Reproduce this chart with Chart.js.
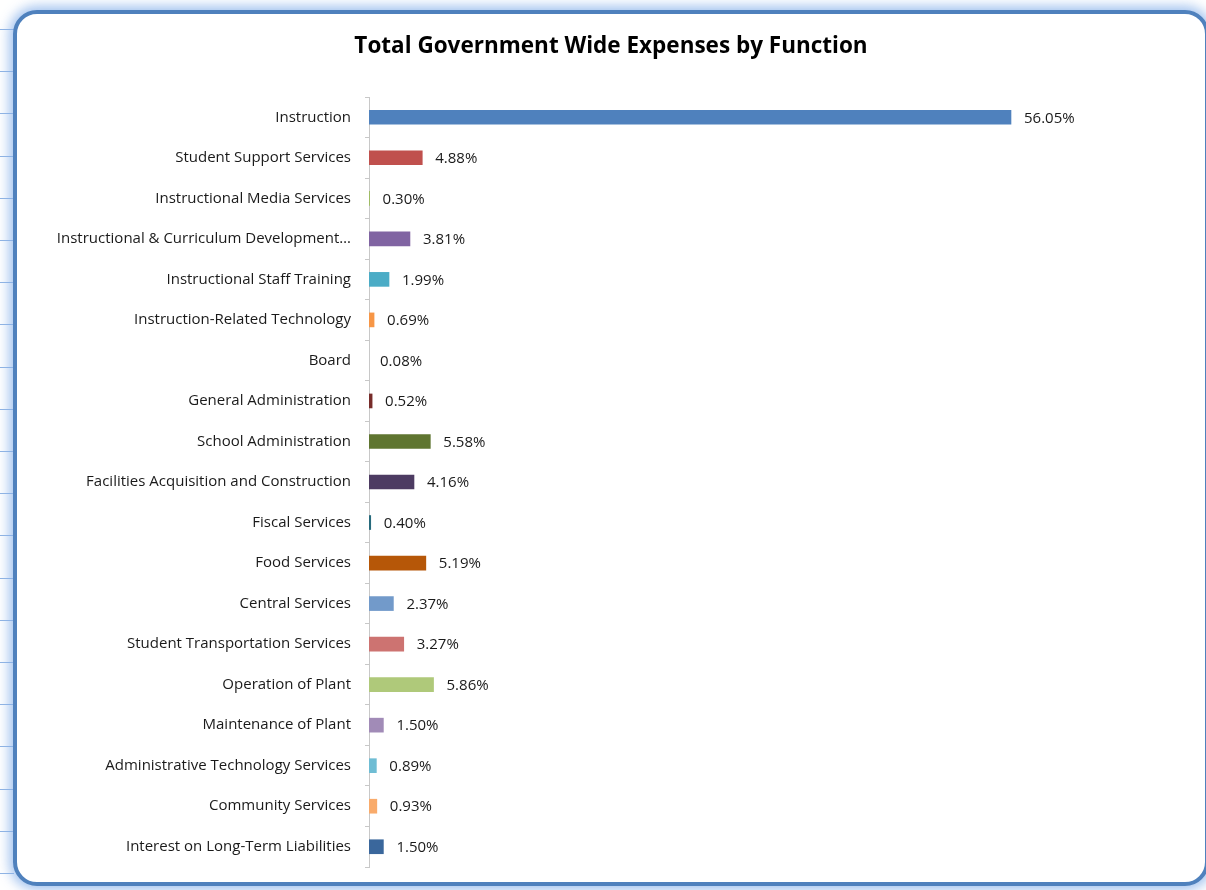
<!DOCTYPE html>
<html>
<head>
<meta charset="utf-8">
<script src="https://cdn.jsdelivr.net/npm/chart.js@4/dist/chart.umd.min.js"></script>
<style>
  html, body { margin: 0; padding: 0; background: #fff; }
  body { width: 1206px; height: 890px; position: relative; overflow: hidden; }
  /* Excelのシート行線(左端にだけ見えている) */
  #sheet {
    position: absolute; left: 0; top: 0; width: 14px; height: 890px;
    background: repeating-linear-gradient(to bottom, transparent 0, transparent 29px, #8fb3e3 29px, #8fb3e3 30px, transparent 30px, transparent 42.2px);
  }
  /* グラフの角丸枠+外側のぼかし */
  #frame {
    position: absolute; left: 13px; top: 10px; width: 1196px; height: 876px;
    box-sizing: border-box; border: 4px solid #4f81bd; border-radius: 24px;
    background: #fff;
    box-shadow: 0 0 12px 4px rgba(140, 180, 235, 0.8);
  }
  #c { position: absolute; left: 0; top: 0; }
</style>
</head>
<body>
<div id="sheet"></div>
<div id="frame"></div>
<canvas id="c" width="1206" height="890"></canvas>
<script>
// 機能別の支出割合(%)
const categories = [
  'Instruction',
  'Student Support Services',
  'Instructional Media Services',
  'Instructional & Curriculum Development…',
  'Instructional Staff Training',
  'Instruction-Related Technology',
  'Board',
  'General Administration',
  'School Administration',
  'Facilities Acquisition and Construction',
  'Fiscal Services',
  'Food Services',
  'Central Services',
  'Student Transportation Services',
  'Operation of Plant',
  'Maintenance of Plant',
  'Administrative Technology Services',
  'Community Services',
  'Interest on Long-Term Liabilities'
];
const percents = [56.05, 4.88, 0.30, 3.81, 1.99, 0.69, 0.08, 0.52, 5.58, 4.16, 0.40, 5.19, 2.37, 3.27, 5.86, 1.50, 0.89, 0.93, 1.50];

// Excel 2007 の系列色(点ごとに色分け)
const barColors = [
  '#4f81bd', '#c0504d', '#9bbb59', '#8064a2', '#4bacc6', '#f79646',
  '#2c4d75', '#772c2a', '#5f7530', '#4d3b62', '#276a7c', '#b65708',
  '#729aca', '#cd7371', '#afc97a', '#a18bb7', '#6fbdd4', '#f9ab6b',
  '#3a679c'
];

const FONT = 'Open Sans, Liberation Sans, sans-serif';

// 棒の右にパーセント表示
const valueLabels = {
  id: 'valueLabels',
  afterDatasetsDraw(chart) {
    const ctx = chart.ctx;
    const x = chart.scales.x;
    const meta = chart.getDatasetMeta(0);
    ctx.save();
    ctx.font = '15px ' + FONT;
    ctx.fillStyle = '#1a1a1a';
    ctx.textAlign = 'left';
    ctx.textBaseline = 'middle';
    meta.data.forEach((bar, i) => {
      const v = percents[i];
      ctx.fillText(v.toFixed(2) + '%', x.getPixelForValue(v) + 13, bar.y + 1);
    });
    ctx.restore();
  }
};

new Chart(document.getElementById('c'), {
  type: 'bar',
  data: {
    labels: categories,
    datasets: [{
      data: percents,
      backgroundColor: barColors,
      borderWidth: 0,
      barThickness: 14
    }]
  },
  plugins: [valueLabels],
  options: {
    indexAxis: 'y',
    responsive: false,
    animation: false,
    events: [],
    layout: { padding: { left: 16, right: 0, top: 0, bottom: 23 } },
    scales: {
      x: { display: false, min: 0.25, max: 73 },
      y: {
        grid: { drawOnChartArea: false, drawTicks: true, tickLength: 4, color: '#c8c8c8', offset: true },
        border: { display: true, color: '#c8c8c8' },
        ticks: { color: '#1a1a1a', font: { family: FONT, size: 15 }, padding: 14, autoSkip: false },
        afterFit(scale) { scale.width = 353; }
      }
    },
    plugins: {
      legend: { display: false },
      tooltip: { enabled: false },
      title: {
        display: true,
        text: 'Total Government Wide Expenses by Function',
        color: '#000',
        font: { family: FONT, size: 22.5, weight: 'bold' },
        padding: { top: 33, bottom: 37 }
      }
    }
  }
});
</script>
</body>
</html>
